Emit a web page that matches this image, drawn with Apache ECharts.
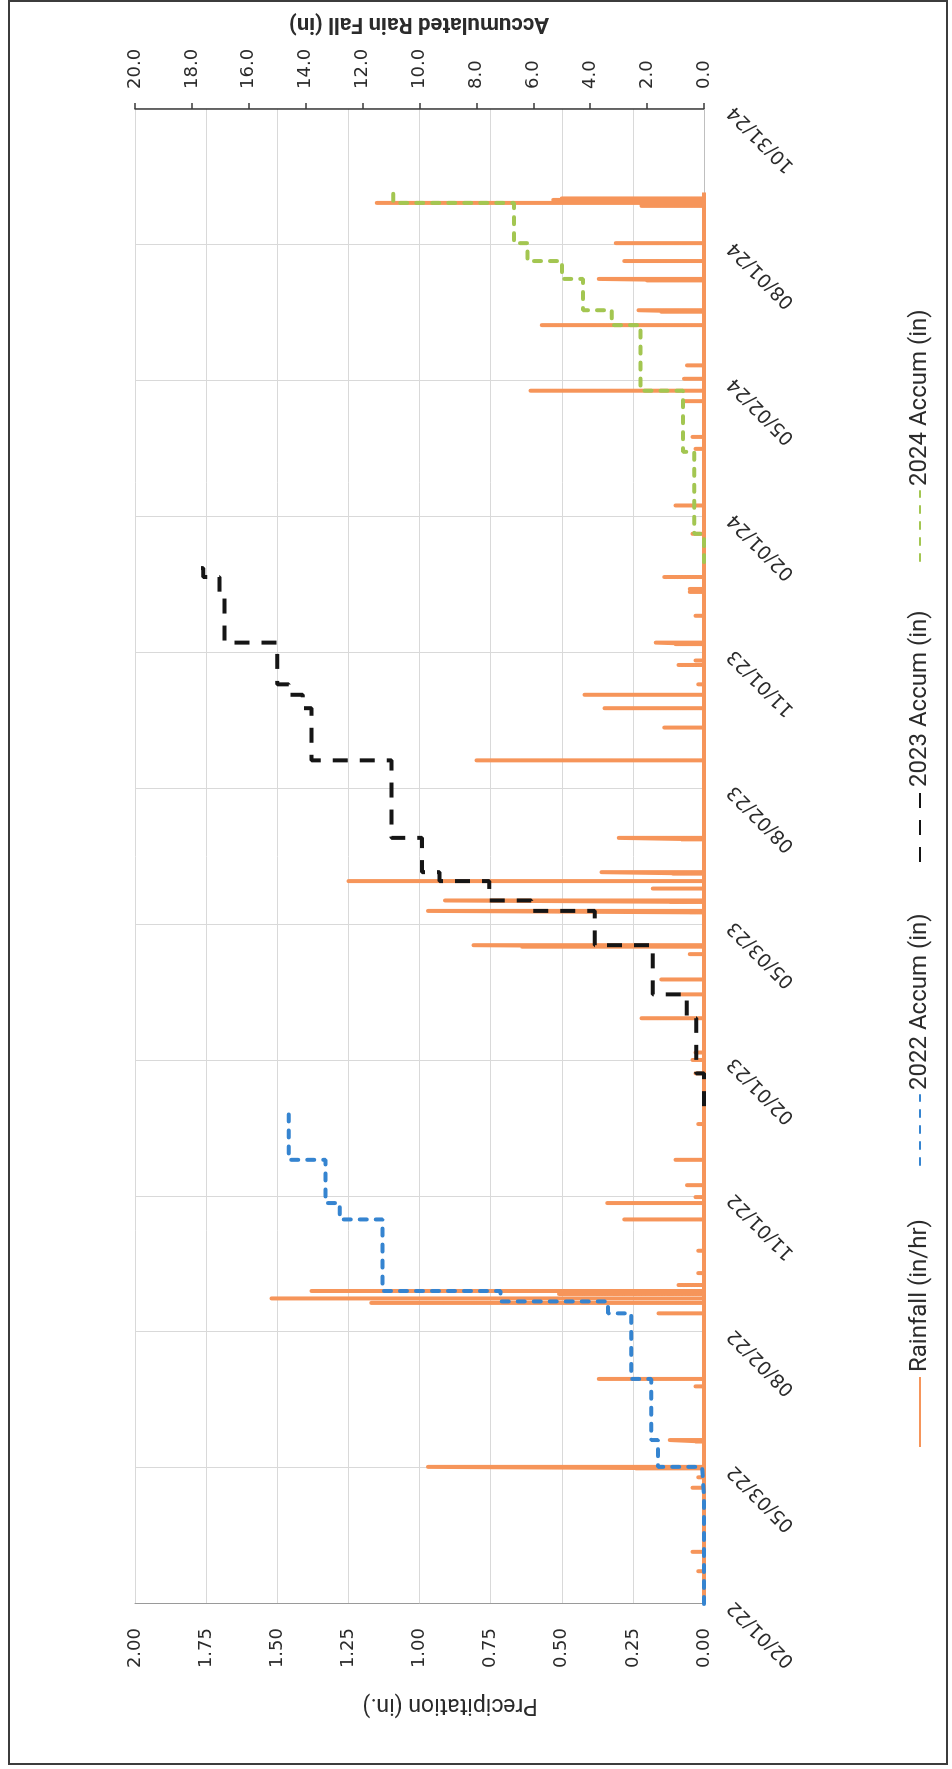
<!DOCTYPE html>
<html>
<head>
<meta charset="utf-8">
<script src="https://cdn.jsdelivr.net/npm/echarts@6.0.0/dist/echarts.min.js"></script>
<style>
  html, body { margin: 0; padding: 0; background: #fff; }
  #page { position: absolute; left: 0; top: 0; width: 952px; height: 1769px; overflow: hidden; background: #fff; }
  #chart { position: absolute; left: 0; top: 0; width: 1769px; height: 952px;
           transform-origin: 0 0; transform: translate(0px, 1769px) rotate(-90deg); }
  #frame { position: absolute; left: 8px; top: 0px; width: 940px; height: 1765px;
           border: 2px solid #3c3c3c; box-sizing: border-box; pointer-events: none; }
</style>
</head>
<body>
<div id="page">
  <div id="chart"></div>
  <div id="frame"></div>
</div>
<script>
// ---------------- data ----------------
const axisStartDate = '2022-02-01';
const axisEndDate = '2024-10-31';
const dateTickLabels = ['02/01/22', '05/03/22', '08/02/22', '11/01/22', '02/01/23', '05/03/23',
                        '08/02/23', '11/01/23', '02/01/24', '05/02/24', '08/01/24', '10/31/24'];

const rainStartDate = '2022-02-01';
const rainEndDate = '2024-09-05';
const rainDates = [
  '2022-02-23','2022-03-08','2022-04-20','2022-04-27','2022-05-03','2022-05-04','2022-05-21','2022-05-22',
  '2022-06-27','2022-07-02','2022-08-15','2022-08-22','2022-08-25','2022-08-28','2022-08-30','2022-09-03',
  '2022-09-11','2022-09-26','2022-10-17','2022-10-28','2022-11-01','2022-11-09','2022-11-26','2022-12-20',
  '2023-01-23','2023-02-01','2023-02-06','2023-03-01','2023-03-17','2023-03-27','2023-04-13','2023-04-18',
  '2023-04-19','2023-05-11','2023-05-12','2023-05-18','2023-05-19','2023-05-27','2023-06-01','2023-06-06',
  '2023-06-07','2023-06-29','2023-06-30','2023-08-21','2023-09-12','2023-09-25','2023-10-04','2023-10-11',
  '2023-10-24','2023-10-27','2023-11-07','2023-11-08','2023-11-26','2023-12-12','2023-12-14','2023-12-22',
  '2024-01-20','2024-02-08','2024-03-17','2024-03-25','2024-04-18','2024-04-25','2024-05-03','2024-05-12',
  '2024-06-08','2024-06-17','2024-06-18','2024-07-08','2024-07-09','2024-07-21','2024-08-02','2024-08-27',
  '2024-08-29','2024-08-31','2024-09-01'
];
const rainValues = [
  0.02, 0.04, 0.04, 0.02, 0.24, 0.97, 0.03, 0.12,
  0.03, 0.37, 0.16, 1.17, 1.52, 0.51, 1.38, 0.09,
  0.02, 0.02, 0.28, 0.34, 0.03, 0.06, 0.10, 0.02,
  0.03, 0.04, 0.03, 0.22, 0.08, 0.15, 0.05, 0.64,
  0.81, 0.05, 0.97, 0.12, 0.91, 0.18, 1.25, 0.11,
  0.36, 0.08, 0.30, 0.80, 0.14, 0.35, 0.42, 0.02,
  0.09, 0.03, 0.10, 0.17, 0.03, 0.05, 0.05, 0.14,
  0.04, 0.10, 0.03, 0.04, 0.07, 0.61, 0.07, 0.06,
  0.57, 0.15, 0.23, 0.20, 0.37, 0.28, 0.31, 0.22,
  1.15, 0.53, 0.50
];

const accum2022Dates = ['2022-02-01','2022-04-15','2022-05-04','2022-05-22','2022-07-02','2022-08-15',
                        '2022-08-23','2022-08-30','2022-10-17','2022-10-28','2022-11-26','2022-12-31'];
const accum2022Values = [0, 0.07, 1.62, 1.85, 2.56, 3.37, 7.15, 11.3, 12.8, 13.3, 14.6, 14.6];

const accum2023Dates = ['2023-01-01','2023-01-23','2023-03-01','2023-03-17','2023-04-19','2023-05-12',
                        '2023-05-19','2023-06-01','2023-06-07','2023-06-30','2023-08-21','2023-09-25',
                        '2023-10-04','2023-10-11','2023-11-08','2023-12-12','2023-12-22','2023-12-28','2023-12-31'];
const accum2023Values = [0, 0.27, 0.61, 1.8, 3.84, 6.07, 7.55, 9.3, 9.91, 10.98, 13.8, 14.1,
                         14.6, 15.0, 16.85, 17.03, 17.6, 17.8, 17.8];

const accum2024Dates = ['2024-01-01','2024-01-20','2024-03-15','2024-04-25','2024-06-08','2024-06-18',
                        '2024-07-09','2024-07-21','2024-08-02','2024-08-29','2024-09-05'];
const accum2024Values = [0, 0.34, 0.74, 2.23, 3.24, 4.25, 4.99, 6.2, 6.68, 10.92, 10.92];

const seriesNames = ['Rainfall (in/hr)', '2022 Accum (in)', '2023 Accum (in)', '2024 Accum (in)'];

const precipTicks = { min: 0, max: 2, step: 0.25 };
const accumTicks = { min: 0, max: 20, step: 2 };

// ---------------- helpers ----------------
function toDay(s) {
  const p = s.split('-').map(Number);
  const q = axisStartDate.split('-').map(Number);
  return (Date.UTC(p[0], p[1] - 1, p[2]) - Date.UTC(q[0], q[1] - 1, q[2])) / 86400000;
}
const axisMax = toDay(axisEndDate);
const dateStep = axisMax / (dateTickLabels.length - 1);

const rainData = [[toDay(rainStartDate), 0]];
rainDates.forEach(function (s, i) {
  const d = toDay(s);
  rainData.push([d, 0], [d, rainValues[i]], [d, 0]);
});
rainData.push([toDay(rainEndDate), 0]);

function pairs(dates, vals) { return dates.map(function (s, i) { return [toDay(s), vals[i]]; }); }

const TXT = '#2b2b2b';
const tickFont = 'DejaVu Sans';
const titleFont = 'Roboto';

// one legend block per entry, placed where the reference puts each entry
const legendLefts = [316, 598, 901, 1202];
const legends = seriesNames.map(function (n, i) {
  return {
    left: legendLefts[i], top: 903, padding: 5,
    itemWidth: 70, itemHeight: 14,
    itemStyle: { opacity: 0, borderWidth: 0 },
    textStyle: { fontFamily: titleFont, fontSize: 24, color: TXT },
    data: [n]
  };
});

const chart = echarts.init(document.getElementById('chart'), null, { renderer: 'canvas' });
chart.setOption({
  animation: false,
  backgroundColor: '#ffffff',
  grid: { left: 165, right: 109, top: 135, bottom: 248, containLabel: false, outerBoundsMode: 'none' },
  legend: legends,
  xAxis: {
    type: 'value', min: 0, max: axisMax, interval: dateStep,
    axisLine: { show: true, onZero: false, lineStyle: { color: '#bfbfbf', width: 1 } },
    axisTick: { show: false },
    splitLine: { show: true, lineStyle: { color: '#d9d9d9', width: 1 } },
    axisLabel: {
      rotate: 45, margin: 27, fontFamily: tickFont, fontSize: 19, color: TXT,
      showMinLabel: true, showMaxLabel: true,
      formatter: function (v) { return dateTickLabels[Math.round(v / dateStep)] || ''; }
    }
  },
  yAxis: [
    {
      type: 'value', position: 'left', min: precipTicks.min, max: precipTicks.max, interval: precipTicks.step,
      axisLine: { show: true, onZero: false, lineStyle: { color: '#9a9a9a', width: 1 } },
      axisTick: { show: false },
      splitLine: { show: true, lineStyle: { color: '#d9d9d9', width: 1 } },
      axisLabel: { margin: 24, fontFamily: tickFont, fontSize: 18, color: TXT,
                   formatter: function (v) { return v.toFixed(2); } }
    },
    {
      type: 'value', position: 'right', min: accumTicks.min, max: accumTicks.max, interval: accumTicks.step,
      axisLine: { show: true, onZero: false, lineStyle: { color: '#3a3a3a', width: 1.5 } },
      axisTick: { show: true, inside: false, length: 6, lineStyle: { color: '#3a3a3a', width: 1.5 } },
      splitLine: { show: false },
      axisLabel: { margin: 20, fontFamily: tickFont, fontSize: 18, color: TXT,
                   formatter: function (v) { return v.toFixed(1); } }
    }
  ],
  graphic: [
    { type: 'text', x: 64, y: 450, rotation: Math.PI / 2,
      style: { text: 'Precipitation (in.)', fontFamily: titleFont, fontSize: 23, fill: TXT,
               align: 'center', verticalAlign: 'middle', textAlign: 'center', textVerticalAlign: 'middle' } },
    { type: 'text', x: 1745, y: 419, rotation: Math.PI / 2,
      style: { text: 'Accumulated Rain Fall (in)', fontFamily: titleFont, fontSize: 22, fontWeight: 'bold', fill: TXT,
               align: 'center', verticalAlign: 'middle', textAlign: 'center', textVerticalAlign: 'middle' } }
  ],
  series: [
    {
      name: seriesNames[0], type: 'line', xAxisIndex: 0, yAxisIndex: 0,
      data: rainData, symbol: 'none', showSymbol: false,
      lineStyle: { color: '#F6955A', width: 4, join: 'round' },
      itemStyle: { color: '#F6955A' }, z: 2
    },
    {
      name: seriesNames[1], type: 'line', xAxisIndex: 0, yAxisIndex: 1, step: 'end',
      data: pairs(accum2022Dates, accum2022Values), symbol: 'none', showSymbol: false,
      lineStyle: { color: '#3584D0', width: 4, type: [7, 9], cap: 'round' },
      itemStyle: { color: '#3584D0' }, z: 3
    },
    {
      name: seriesNames[2], type: 'line', xAxisIndex: 0, yAxisIndex: 1, step: 'end',
      data: pairs(accum2023Dates, accum2023Values), symbol: 'none', showSymbol: false,
      lineStyle: { color: '#151515', width: 4, type: [15, 12], cap: 'butt' },
      itemStyle: { color: '#151515' }, z: 3
    },
    {
      name: seriesNames[3], type: 'line', xAxisIndex: 0, yAxisIndex: 1, step: 'end',
      data: pairs(accum2024Dates, accum2024Values), symbol: 'none', showSymbol: false,
      lineStyle: { color: '#A3C651', width: 4, type: [7, 9], cap: 'round' },
      itemStyle: { color: '#A3C651' }, z: 3
    }
  ]
});
</script>
</body>
</html>
